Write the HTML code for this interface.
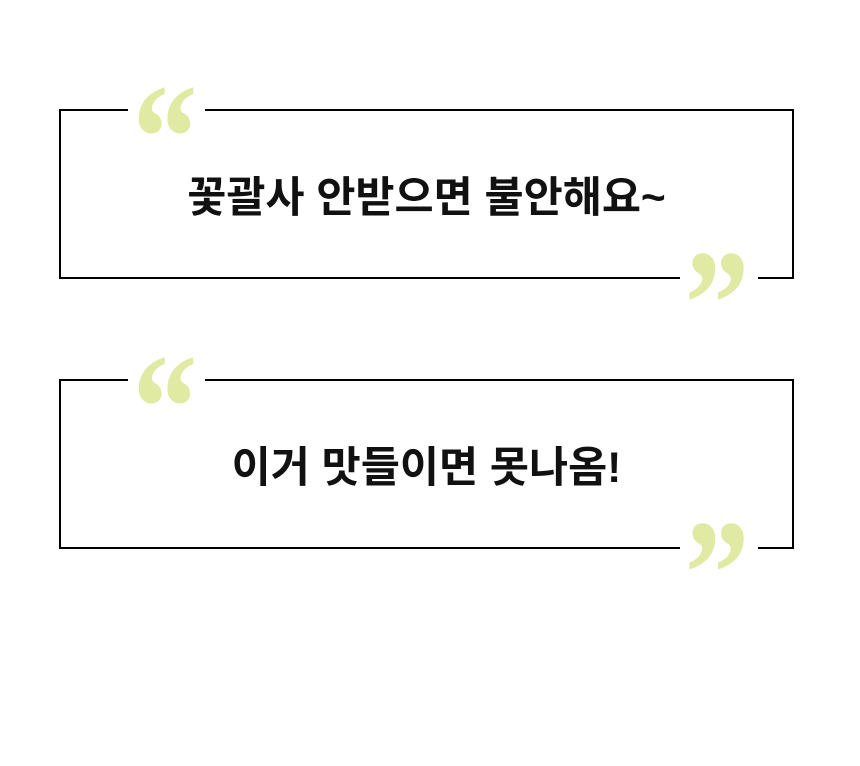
<!DOCTYPE html>
<html><head><meta charset="utf-8"><style>
body{margin:0;width:860px;height:766px;background:#fff;position:relative;overflow:hidden;font-family:"Liberation Sans","Noto Sans CJK KR",sans-serif}
.box{position:absolute;left:59px;width:731px;height:166px;border:2px solid #000}
.gap{position:absolute;background:#fff;height:6px}
.q{position:absolute;color:#e1eaa2;font-family:"Liberation Serif",serif;font-weight:bold;font-size:153px;line-height:1;width:60px;text-align:center;transform:scaleX(0.85)}
.t{position:absolute;left:59px;width:735px;text-align:center;font-weight:bold;font-size:42.5px;line-height:42px;color:#111}
</style></head><body>
<div class="box" style="top:109px"></div>
<div class="gap" style="left:128px;width:77px;top:106px"></div>
<div class="gap" style="left:680px;width:78px;top:275px"></div>
<div class="q" style="left:128px;top:62px">“</div>
<div class="q" style="left:680px;top:228px">”</div>
<div class="t" style="top:178px">꽃괄사 안받으면 불안해요~</div>

<div class="box" style="top:379px"></div>
<div class="gap" style="left:128px;width:77px;top:376px"></div>
<div class="gap" style="left:680px;width:78px;top:545px"></div>
<div class="q" style="left:128px;top:332px">“</div>
<div class="q" style="left:680px;top:498px">”</div>
<div class="t" style="top:448px">이거 맛들이면 못나옴!</div>
</body></html>
